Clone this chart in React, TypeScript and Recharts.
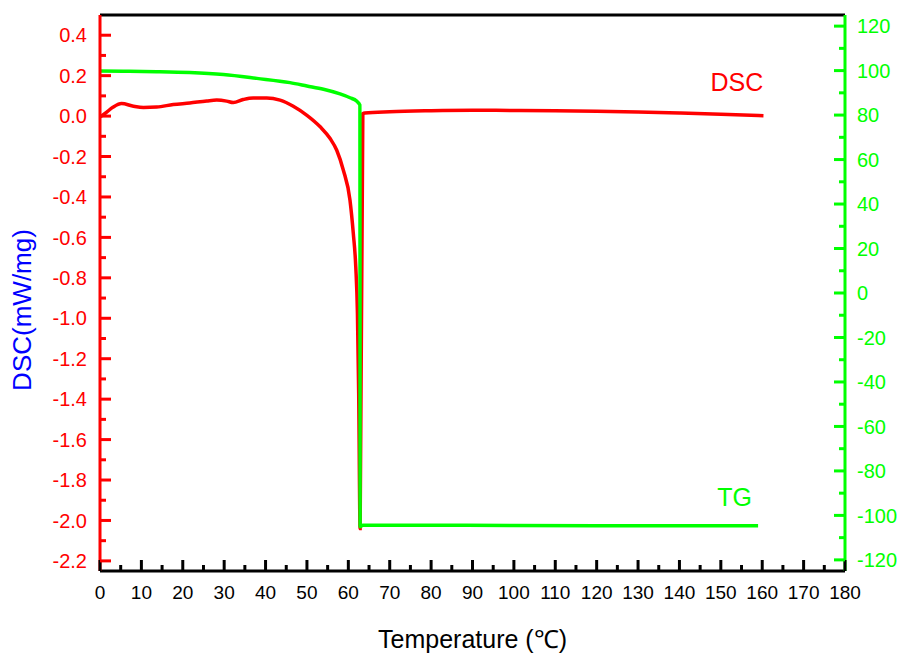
import { ComposedChart, Line, XAxis, YAxis, ReferenceLine, ReferenceDot } from 'recharts';

// DSC curve (red, left axis)
const dscTemp = [0, 1.2, 3.2, 5.2, 8.1, 10.5, 13.7, 17.7, 21.7, 25.8, 28.2, 30.6, 32.2, 34.6, 37, 40.3, 43.5, 46.7, 50, 53.2, 55.6, 57.2, 58.8, 60.4, 61.2, 61.8, 62.2, 62.5, 62.85, 63.5, 64, 70, 80, 90, 100, 110, 120, 130, 140, 150, 160.3];
const dscValue = [-0.004, 0.013, 0.045, 0.062, 0.049, 0.043, 0.045, 0.057, 0.065, 0.075, 0.079, 0.074, 0.067, 0.082, 0.09, 0.09, 0.079, 0.049, 0.004, -0.053, -0.111, -0.169, -0.268, -0.416, -0.58, -0.746, -0.976, -1.37, -2.04, 0.012, 0.015, 0.022, 0.027, 0.029, 0.028, 0.027, 0.024, 0.02, 0.015, 0.009, 0.002];

// TG curve (green, right axis)
const tgTemp = [0, 5.6, 13.7, 21.7, 29.8, 37.9, 45.9, 50, 54, 58, 60.4, 62, 62.8, 62.85, 63.5, 80, 100, 120, 140, 159];
const tgValue = [99.8, 99.7, 99.5, 99.1, 98.2, 96.5, 94.6, 93.1, 91.6, 89.5, 87.8, 86.3, 84.5, -105.1, -104.4, -104.4, -104.5, -104.6, -104.6, -104.6];

const xMajorTicks = [0, 10, 20, 30, 40, 50, 60, 70, 80, 90, 100, 110, 120, 130, 140, 150, 160, 170, 180];
const xMinorTicks = [5, 15, 25, 35, 45, 55, 65, 75, 85, 95, 105, 115, 125, 135, 145, 155, 165, 175];
const dscMajorTicks = [0.4, 0.2, 0, -0.2, -0.4, -0.6, -0.8, -1.0, -1.2, -1.4, -1.6, -1.8, -2.0, -2.2];
const dscMinorTicks = [0.3, 0.1, -0.1, -0.3, -0.5, -0.7, -0.9, -1.1, -1.3, -1.5, -1.7, -1.9, -2.1];
const tgMajorTicks = [120, 100, 80, 60, 40, 20, 0, -20, -40, -60, -80, -100, -120];
const tgMinorTicks = [110, 90, 70, 50, 30, 10, -10, -30, -50, -70, -90, -110];

const dscData = dscTemp.map((t, i) => ({ t, v: dscValue[i] }));
const tgData = tgTemp.map((t, i) => ({ t, v: tgValue[i] }));

const FONT = 'Liberation Sans, Arial, sans-serif';
const RED = '#ff0000';
const GREEN = '#00ff00';

const BottomTick = (props: any) => {
  const { x, y, payload } = props;
  const major = xMajorTicks.includes(payload.value);
  return (
    <g>
      <line x1={x} x2={x} y1={y} y2={y - (major ? 11 : 6)} stroke="#000" strokeWidth={3} />
      {major && (
        <text x={x} y={y + 28} textAnchor="middle" fontSize={19} fontFamily={FONT} fill="#000">
          {payload.value}
        </text>
      )}
    </g>
  );
};

const LeftTick = (props: any) => {
  const { x, y, payload } = props;
  const major = dscMajorTicks.includes(payload.value);
  return (
    <g>
      <line x1={x} x2={x + (major ? 11 : 6)} y1={y} y2={y} stroke={RED} strokeWidth={3} />
      {major && (
        <text x={x - 13} y={y} dy="0.36em" textAnchor="end" fontSize={20} fontFamily={FONT} fill={RED}>
          {payload.value.toFixed(1)}
        </text>
      )}
    </g>
  );
};

const RightTick = (props: any) => {
  const { x, y, payload } = props;
  const major = tgMajorTicks.includes(payload.value);
  return (
    <g>
      <line x1={x} x2={x - (major ? 11 : 6)} y1={y} y2={y} stroke={GREEN} strokeWidth={3} />
      {major && (
        <text x={x + 12} y={y} dy="0.36em" textAnchor="start" fontSize={20} fontFamily={FONT} fill={GREEN}>
          {payload.value}
        </text>
      )}
    </g>
  );
};

export default function App() {
  return (
    <div style={{ position: 'absolute', left: 0, top: 0, background: '#fff' }}>
      <ComposedChart width={904} height={653} margin={{ top: 15, right: 9, left: 10, bottom: 2 }}>
        <XAxis
          xAxisId="x"
          dataKey="t"
          type="number"
          domain={[0, 180]}
          allowDataOverflow
          ticks={[...xMajorTicks, ...xMinorTicks]}
          interval={0}
          tickSize={0}
          tickMargin={0}
          tickLine={false}
          tick={<BottomTick />}
          height={80}
          axisLine={{ stroke: '#000', strokeWidth: 3 }}
          label={(p: any) => (
            <text
              x={p.viewBox.x + p.viewBox.width / 2}
              y={p.viewBox.y + 77}
              textAnchor="middle"
              fontSize={25}
              fontFamily={FONT}
              fill="#000"
            >
              Temperature (℃)
            </text>
          )}
        />
        <YAxis
          yAxisId="left"
          orientation="left"
          type="number"
          domain={[-2.25, 0.5]}
          allowDataOverflow
          ticks={[...dscMajorTicks, ...dscMinorTicks]}
          interval={0}
          tickSize={0}
          tickMargin={0}
          tickLine={false}
          tick={<LeftTick />}
          width={90}
          axisLine={{ stroke: RED, strokeWidth: 3 }}
          label={(p: any) => {
            const cx = p.viewBox.x + 12;
            const cy = p.viewBox.y + p.viewBox.height / 2 + 17;
            return (
              <text
                x={cx}
                y={cy}
                transform={`rotate(-90, ${cx}, ${cy})`}
                textAnchor="middle"
                dominantBaseline="central"
                fontSize={26}
                fontFamily={FONT}
                fill="#0000ff"
              >
                DSC(mW/mg)
              </text>
            );
          }}
        />
        <YAxis
          yAxisId="right"
          orientation="right"
          type="number"
          domain={[-125, 125]}
          allowDataOverflow
          ticks={[...tgMajorTicks, ...tgMinorTicks]}
          interval={0}
          tickSize={0}
          tickMargin={0}
          tickLine={false}
          tick={<RightTick />}
          width={50}
          axisLine={{ stroke: GREEN, strokeWidth: 3 }}
        />
        <ReferenceLine xAxisId="x" yAxisId="left" y={0.5} stroke="#000" strokeWidth={3} />
        <Line
          xAxisId="x"
          yAxisId="left"
          data={dscData}
          dataKey="v"
          type="monotone"
          stroke={RED}
          strokeWidth={3.5}
          dot={false}
          activeDot={false}
          isAnimationActive={false}
        />
        <Line
          xAxisId="x"
          yAxisId="right"
          data={tgData}
          dataKey="v"
          type="monotone"
          stroke={GREEN}
          strokeWidth={3.5}
          dot={false}
          activeDot={false}
          isAnimationActive={false}
        />
        <ReferenceDot
          xAxisId="x"
          yAxisId="left"
          x={153.9}
          y={0.168}
          r={0}
          fill="none"
          stroke="none"
          label={{ value: 'DSC', position: 'center', fill: RED, fontSize: 25, fontFamily: FONT }}
        />
        <ReferenceDot
          xAxisId="x"
          yAxisId="right"
          x={153.3}
          y={-91.9}
          r={0}
          fill="none"
          stroke="none"
          label={{ value: 'TG', position: 'center', fill: GREEN, fontSize: 25, fontFamily: FONT }}
        />
      </ComposedChart>
    </div>
  );
}
